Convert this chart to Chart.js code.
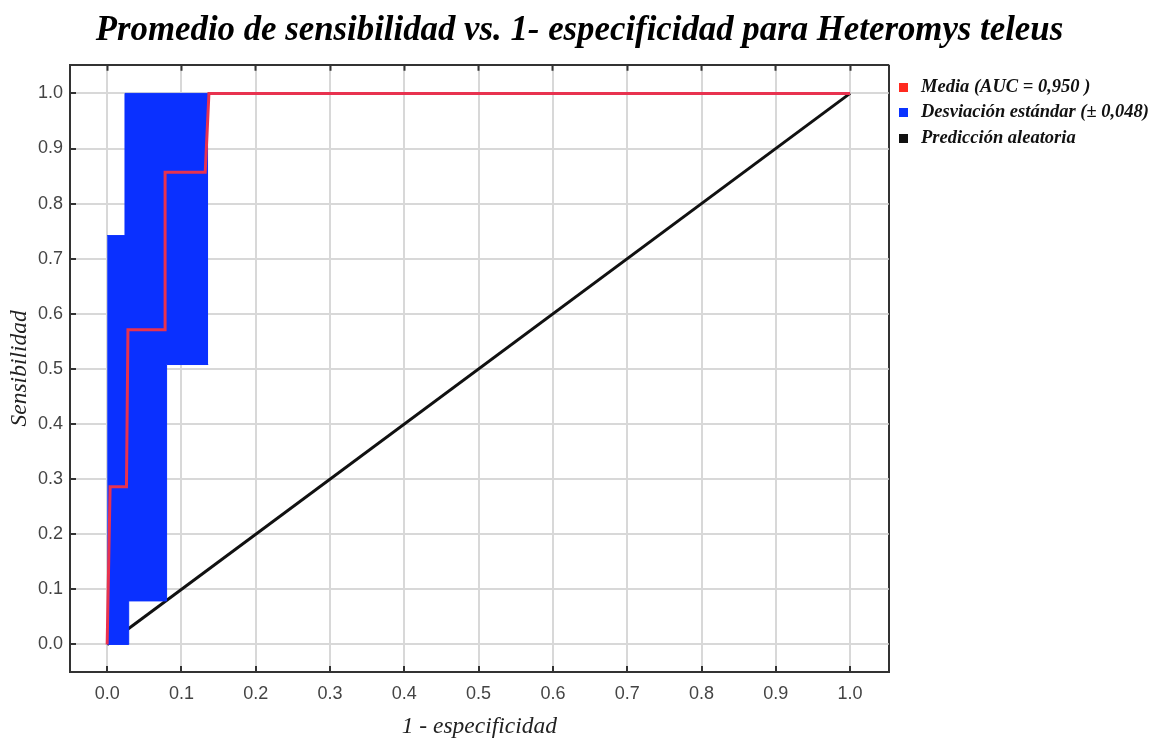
<!DOCTYPE html>
<html>
<head>
<meta charset="utf-8">
<script src="https://cdn.jsdelivr.net/npm/chart.js@4"></script>
<style>
  html, body { margin: 0; padding: 0; background: #ffffff; }
  #wrap { width: 1159px; height: 744px; }
</style>
</head>
<body>
<div id="wrap"><canvas id="c" width="1159" height="744"></canvas></div>
<script>
// ---- Data ----
const titleText = 'Promedio de sensibilidad vs. 1- especificidad para Heteromys teleus';
const xAxisTitle = '1 - especificidad';
const yAxisTitle = 'Sensibilidad';
const tickValues = [0, 0.1, 0.2, 0.3, 0.4, 0.5, 0.6, 0.7, 0.8, 0.9, 1.0];

// Mean ROC curve (1 - specificity, sensitivity)
const meanX = [0, 0.004, 0.026, 0.028, 0.078, 0.078, 0.132, 0.137, 1.0];
const meanY = [0, 0.286, 0.286, 0.571, 0.571, 0.857, 0.857, 1.0, 1.0];

// Standard deviation band: upper and lower edges
const bandUpperX = [0, 0.024, 0.024, 0.136];
const bandUpperY = [0.742, 0.742, 1.0, 1.0];
const bandLowerX = [0, 0.029, 0.029, 0.080, 0.080, 0.136];
const bandLowerY = [0, 0, 0.079, 0.079, 0.508, 0.508];

// Random prediction line
const randomX = [0, 1];
const randomY = [0, 1];

const legendLabels = ['Media (AUC = 0,950 )', 'Desviación estándar (± 0,048)', 'Predicción aleatoria'];
const legendColors = ['#ff2a1f', '#0a33ff', '#111111'];

// ---- Styles ----
const RED = '#e8324f';
const BLUE = '#0a30ff';
const BLACK = '#111111';
const FRAME = '#333333';
const GRID = '#d8d8d8';
const AXIS_MIN = -0.05;
const AXIS_MAX = 1.052;

const pts = (xs, ys) => xs.map((x, i) => ({ x: x, y: ys[i] }));

// Square legend markers
const makeSwatch = (color) => {
  const cv = document.createElement('canvas');
  cv.width = 9; cv.height = 9;
  const g = cv.getContext('2d');
  g.fillStyle = color; g.fillRect(0, 0, 9, 9);
  return cv;
};
const swatches = legendColors.map(makeSwatch);

const setTicks = (scale) => { scale.ticks = tickValues.map(v => ({ value: v })); };
const setTicksWithEdge = (scale) => { scale.ticks = tickValues.map(v => ({ value: v })).concat([{ value: scale.max }]); };
const gridColor = (ctx) => (ctx.tick && ctx.tick.value >= AXIS_MAX - 1e-9) ? FRAME : GRID;
const labelFmt = (v) => (v > 1.01 ? '' : Number(v).toFixed(1));

new Chart(document.getElementById('c'), {
  type: 'scatter',
  data: {
    datasets: [
      { label: legendLabels[0], data: pts(meanX, meanY), showLine: true, borderColor: RED, backgroundColor: RED, borderWidth: 3, pointRadius: 0, fill: false },
      { label: legendLabels[1], data: pts(bandUpperX, bandUpperY), showLine: true, borderColor: BLUE, backgroundColor: BLUE, borderWidth: 1, pointRadius: 0, fill: '+1' },
      { label: 'lower', data: pts(bandLowerX, bandLowerY), showLine: true, borderColor: BLUE, backgroundColor: BLUE, borderWidth: 1, pointRadius: 0, fill: false },
      { label: legendLabels[2], data: pts(randomX, randomY), showLine: true, borderColor: BLACK, backgroundColor: BLACK, borderWidth: 3, pointRadius: 0, fill: false }
    ]
  },
  options: {
    responsive: false,
    devicePixelRatio: 1,
    animation: false,
    layout: { padding: { left: 0, right: 0, top: 0, bottom: 0 } },
    elements: { line: { tension: 0 } },
    scales: {
      x: {
        type: 'linear', position: 'bottom', min: AXIS_MIN, max: AXIS_MAX,
        afterBuildTicks: setTicksWithEdge,
        afterFit: (s) => { s.height = 72; },
        ticks: { callback: labelFmt, color: '#444', padding: 17, font: { family: 'Liberation Sans', size: 18 } },
        grid: { color: gridColor, lineWidth: 2, drawTicks: true, tickLength: -6, tickColor: FRAME, tickWidth: 2 },
        border: { display: true, color: FRAME, width: 2 },
        title: { display: true, text: xAxisTitle, color: '#222', padding: { top: 0, bottom: 3 }, font: { family: 'Liberation Serif', style: 'italic', size: 23.5 } }
      },
      y: {
        type: 'linear', position: 'left', min: AXIS_MIN, max: AXIS_MAX,
        afterBuildTicks: setTicks,
        afterFit: (s) => { s.width = 70; },
        ticks: { callback: labelFmt, color: '#444', padding: 13, font: { family: 'Liberation Sans', size: 18 } },
        grid: { color: GRID, lineWidth: 2, drawTicks: true, tickLength: -6, tickColor: FRAME, tickWidth: 2 },
        border: { display: true, color: FRAME, width: 2 },
        title: { display: true, text: yAxisTitle, color: '#222', padding: { top: 6, bottom: 0 }, font: { family: 'Liberation Serif', style: 'italic', size: 23.5 } }
      },
      x2: {
        type: 'linear', position: 'top', min: AXIS_MIN, max: AXIS_MAX,
        afterBuildTicks: setTicks,
        afterFit: (s) => { s.height = 0; },
        ticks: { display: false },
        grid: { drawOnChartArea: false, drawTicks: true, tickLength: -6, tickColor: FRAME, tickWidth: 2 },
        border: { display: true, color: FRAME, width: 2 }
      }
    },
    plugins: {
      title: {
        display: true, text: titleText, color: '#000',
        padding: { top: 10, bottom: 13 },
        font: { family: 'Liberation Serif', style: 'italic', weight: 'bold', size: 34.8, lineHeight: 1.2 }
      },
      legend: {
        display: true, position: 'right', align: 'start', fullSize: false,
        title: { display: true, text: '', padding: { top: 4, bottom: 1 }, font: { size: 1 } },
        labels: {
          usePointStyle: true, boxWidth: 16, boxHeight: 9, padding: 7, color: '#111',
          font: { family: 'Liberation Serif', style: 'italic', weight: 'bold', size: 18.5 },
          generateLabels: () => legendLabels.map((t, i) => ({
            text: t, fillStyle: legendColors[i], strokeStyle: legendColors[i], fontColor: '#111',
            lineWidth: 0, hidden: false, datasetIndex: i, pointStyle: swatches[i]
          }))
        }
      },
      tooltip: { enabled: false }
    }
  }
});
</script>
</body>
</html>
